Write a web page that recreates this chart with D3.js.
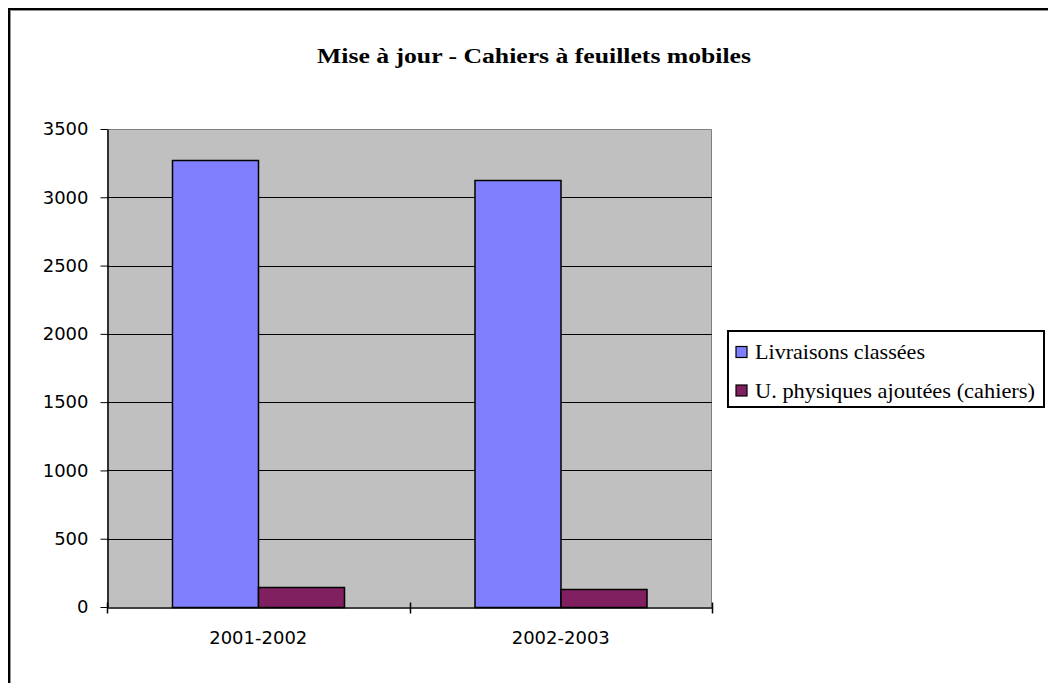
<!DOCTYPE html>
<html>
<head>
<meta charset="utf-8">
<script src="https://cdnjs.cloudflare.com/ajax/libs/d3/7.8.5/d3.min.js"></script>
<style>
body{margin:0;background:#fff;}
svg{display:block;}
</style>
</head>
<body>
<div id="chart"></div>
<script>
// données du graphique
var categories=['2001-2002','2002-2003'];
var seriesNames=['Livraisons classées','U. physiques ajoutées (cahiers)'];
var livraisons=[3275,3130];
var unites=[150,130];
var yTicks=[0,500,1000,1500,2000,2500,3000,3500];
var titre='Mise à jour - Cahiers à feuillets mobiles';

var colors=['#8080FF','#802060'];
var W=1048,H=683;
var plot={left:107,right:712,top:129,bottom:607};

var svg=d3.select('#chart').append('svg').attr('width',W).attr('height',H);

// cadre extérieur
svg.append('rect').attr('x',10.5).attr('y',10.5).attr('width',1200).attr('height',800)
	.attr('fill','none').attr('stroke','#909090').attr('stroke-width',1);
svg.append('rect').attr('x',9).attr('y',9).attr('width',1200).attr('height',800)
	.attr('fill','none').attr('stroke','#000').attr('stroke-width',2);

// titre
svg.append('text').attr('x',534).attr('y',63).attr('text-anchor','middle')
	.attr('font-family','"Liberation Serif","Times New Roman",serif')
	.attr('font-weight','bold').attr('font-size',20)
	.attr('textLength',434).attr('lengthAdjust','spacingAndGlyphs')
	.text(titre);

var x0=d3.scaleBand().domain(categories).range([plot.left,plot.right]).paddingInner(0).paddingOuter(0);
var x1=d3.scaleBand().domain(d3.range(seriesNames.length)).range([0,x0.bandwidth()]).paddingInner(0).paddingOuter(0.75);
var y=d3.scaleLinear().domain([0,3500]).range([plot.bottom,plot.top]);

// fond de la zone de traçage
svg.append('rect').attr('x',plot.left).attr('y',plot.top)
	.attr('width',plot.right-plot.left).attr('height',plot.bottom-plot.top)
	.attr('fill','#C0C0C0');
svg.append('path').attr('d','M'+plot.left+','+(plot.top+0.5)+'H'+(plot.right-0.5)+'V'+plot.bottom)
	.attr('fill','none').attr('stroke','#808080').attr('stroke-width',1);

// quadrillage
svg.append('g').selectAll('line').data(yTicks.filter(function(d){return d>0&&d<3500;})).enter()
	.append('line')
	.attr('x1',plot.left).attr('x2',plot.right)
	.attr('y1',function(d){return Math.round(y(d))+0.5;})
	.attr('y2',function(d){return Math.round(y(d))+0.5;})
	.attr('stroke','#000').attr('stroke-width',1);

// barres
var data=[livraisons,unites];
var gCat=svg.append('g').selectAll('g').data(categories).enter().append('g')
	.attr('transform',function(d){return 'translate('+x0(d)+',0)';});
gCat.selectAll('rect').data(function(d,i){return data.map(function(s,j){return {s:j,v:s[i]};});})
	.enter().append('rect')
	.attr('x',function(d){return Math.round(x1(d.s))+0.5;})
	.attr('y',function(d){return Math.round(y(d.v))+0.5;})
	.attr('width',Math.round(x1.bandwidth()))
	.attr('height',function(d){return Math.round(y(0))-Math.round(y(d.v));})
	.attr('fill',function(d){return colors[d.s];})
	.attr('stroke','#000').attr('stroke-width',1.5);

// axe Y
var yAxis=svg.append('g').attr('transform','translate('+(plot.left+0.5)+',0)')
	.call(d3.axisLeft(y).tickValues(yTicks).tickFormat(d3.format('d')).tickSize(7).tickPadding(12).tickSizeOuter(0));
yAxis.select('.domain').attr('stroke','#000').attr('stroke-width',1.5);
yAxis.selectAll('.tick line').attr('stroke','#000');
yAxis.selectAll('.tick text').attr('font-family','"DejaVu Sans",Verdana,sans-serif')
	.attr('font-size',18).attr('fill','#000');

// axe X
var xAxis=svg.append('g').attr('transform','translate(0,'+(plot.bottom+0.5)+')')
	.call(d3.axisBottom(x0).tickSize(0).tickPadding(24).tickSizeOuter(0));
xAxis.select('.domain').attr('stroke','#000').attr('stroke-width',1.5);
xAxis.selectAll('.tick text').attr('font-family','"DejaVu Sans",Verdana,sans-serif')
	.attr('font-size',18).attr('fill','#000');
// graduations entre catégories
var bounds=categories.map(function(c){return x0(c);}).concat([plot.right]);
xAxis.selectAll('.sep').data(bounds).enter().append('line')
	.attr('x1',function(d){return Math.round(d)+0.5;}).attr('x2',function(d){return Math.round(d)+0.5;})
	.attr('y1',-5).attr('y2',6).attr('stroke','#000').attr('stroke-width',1.5);

// légende
var leg=svg.append('g').attr('transform','translate(728,331)');
leg.append('rect').attr('x',0).attr('y',0).attr('width',316).attr('height',76)
	.attr('fill','#fff').attr('stroke','#000').attr('stroke-width',2);
var legW=[170,280];
var items=leg.selectAll('g.item').data(seriesNames).enter().append('g')
	.attr('transform',function(d,i){return 'translate(8,'+(21+i*38.5)+')';});
items.append('rect').attr('x',0).attr('y',-5.5).attr('width',11).attr('height',11)
	.attr('fill',function(d,i){return colors[i];}).attr('stroke','#000').attr('stroke-width',1.2);
items.append('text').attr('x',19).attr('y',7)
	.attr('font-family','"Liberation Serif","Times New Roman",serif').attr('font-size',21)
	.attr('textLength',function(d,i){return legW[i];}).attr('lengthAdjust','spacingAndGlyphs')
	.text(function(d){return d;});
</script>
</body>
</html>
